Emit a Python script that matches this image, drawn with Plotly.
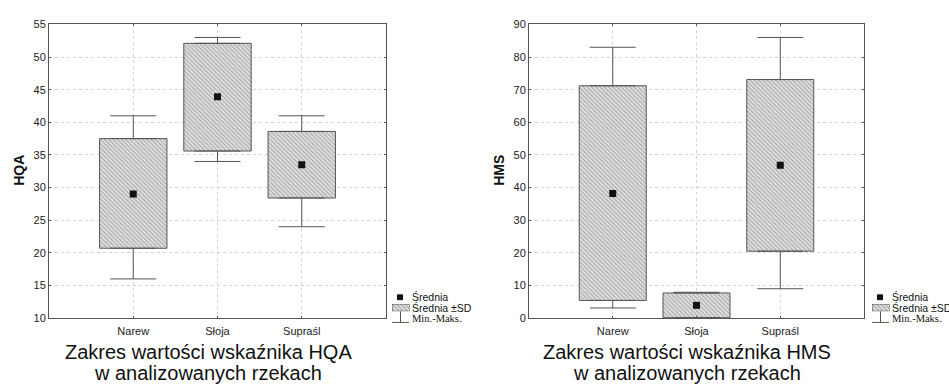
import plotly.graph_objects as go

W, H = 949, 389

# ---------------- data ----------------
rivers = ["Narew", "Słoja", "Supraśl"]
xpos = [1, 2, 3]

hqa_mean = [29.0, 43.9, 33.5]
hqa_sd_low = [20.7, 35.6, 28.4]
hqa_sd_high = [37.5, 52.1, 38.6]
hqa_min = [16.0, 34.0, 24.0]
hqa_max = [41.0, 53.0, 41.0]

hms_mean = [38.2, 3.9, 46.8]
hms_sd_low = [5.4, 0.1, 20.5]
hms_sd_high = [71.2, 7.7, 73.1]
hms_min = [3.1, 0.0, 9.0]
hms_max = [83.0, 7.9, 86.0]

hqa_ticks = [10, 15, 20, 25, 30, 35, 40, 45, 50, 55]
hms_ticks = [0, 10, 20, 30, 40, 50, 60, 70, 80, 90]

legend_labels = ["Średnia", "Średnia ±SD", "Min.-Maks."]
titles = [("Zakres wartości wskaźnika HQA", "w analizowanych rzekach"),
          ("Zakres wartości wskaźnika HMS", "w analizowanych rzekach")]
ytitles = ["HQA", "HMS"]

# ---------------- styling ----------------
SANS = "Liberation Sans, Arial, sans-serif"
SERIF = "Liberation Serif, Times New Roman, serif"
EDGE = "#555555"
PATTERN = dict(shape="\\", fgcolor="#6a6a6a", bgcolor="#e4e4e4", size=3, solidity=0.4)

fig = go.Figure()


def px_x(p):
    return p / W


def px_y(p):
    return 1 - p / H


def add_panel(xa, ya, mean, lo, hi, mn, mx):
    xs = "x" if xa == 1 else f"x{xa}"
    ys = "y" if ya == 1 else f"y{ya}"
    fig.add_trace(go.Bar(
        x=xpos, y=[h - l for h, l in zip(hi, lo)], base=lo, width=0.8,
        marker=dict(color="#e4e4e4", pattern=PATTERN, line=dict(color=EDGE, width=1)),
        xaxis=xs, yaxis=ys, showlegend=False, hoverinfo="skip"))
    # upper whiskers
    fig.add_trace(go.Scatter(
        x=xpos, y=hi, mode="markers", marker=dict(size=1, color="rgba(0,0,0,0)"),
        error_y=dict(type="data", symmetric=False,
                     array=[m - h for m, h in zip(mx, hi)], arrayminus=[0] * len(hi),
                     color="#555555", thickness=1, width=23),
        xaxis=xs, yaxis=ys, showlegend=False, hoverinfo="skip"))
    # lower whiskers
    fig.add_trace(go.Scatter(
        x=xpos, y=lo, mode="markers", marker=dict(size=1, color="rgba(0,0,0,0)"),
        error_y=dict(type="data", symmetric=False,
                     array=[0] * len(lo), arrayminus=[l - m for l, m in zip(lo, mn)],
                     color="#555555", thickness=1, width=23),
        xaxis=xs, yaxis=ys, showlegend=False, hoverinfo="skip"))
    # means
    fig.add_trace(go.Scatter(
        x=xpos, y=mean, mode="markers",
        marker=dict(symbol="square", size=7, color="#111111"),
        xaxis=xs, yaxis=ys, showlegend=False, hoverinfo="skip"))


add_panel(1, 1, hqa_mean, hqa_sd_low, hqa_sd_high, hqa_min, hqa_max)
add_panel(2, 2, hms_mean, hms_sd_low, hms_sd_high, hms_min, hms_max)

axis_common = dict(showline=True, mirror="ticks", linecolor=EDGE, linewidth=1,
                   ticks="inside", ticklen=2, tickcolor=EDGE,
                   showgrid=True, gridcolor="#d4d4d4", griddash="dot", gridwidth=1,
                   zeroline=False, tickfont=dict(family=SANS, size=11, color="#222"))

top, bottom = 19, 322
panels = [(49, 386), (529, 864)]

layout = dict(
    width=W, height=H, margin=dict(l=0, r=0, t=0, b=0),
    paper_bgcolor="white", plot_bgcolor="white", showlegend=False, barmode="overlay",
    xaxis=dict(domain=[px_x(panels[0][0]), px_x(panels[0][1])], range=[0, 4],
               tickvals=xpos, ticktext=rivers, anchor="y", ticklabelstandoff=3, **axis_common),
    yaxis=dict(domain=[px_y(bottom), px_y(top)], range=[10, 55], tickvals=hqa_ticks,
               anchor="x", **axis_common),
    xaxis2=dict(domain=[px_x(panels[1][0]), px_x(panels[1][1])], range=[0, 4],
                tickvals=xpos, ticktext=rivers, anchor="y2", ticklabelstandoff=3, **axis_common),
    yaxis2=dict(domain=[px_y(bottom), px_y(top)], range=[0, 90], tickvals=hms_ticks,
                anchor="x2", **axis_common),
)
fig.update_layout(**layout)

annotations = []
shapes = []
for i, (l, r) in enumerate(panels):
    off = 0 if i == 0 else 480
    # y-axis title
    annotations.append(dict(text=f"<b>{ytitles[i]}</b>", x=px_x(19 + off),
                            y=px_y(170), xref="paper", yref="paper", showarrow=False,
                            textangle=-90, font=dict(family=SANS, size=14, color="#111"),
                            xanchor="center", yanchor="middle"))
    # title lines
    cx = 208 if i == 0 else 687
    annotations.append(dict(text=titles[i][0], x=px_x(cx), y=px_y(357), xref="paper",
                            yref="paper", showarrow=False, xanchor="center", yanchor="middle",
                            font=dict(family=SANS, size=20, color="#111")))
    annotations.append(dict(text=titles[i][1], x=px_x(cx), y=px_y(379), xref="paper",
                            yref="paper", showarrow=False, xanchor="center", yanchor="middle",
                            font=dict(family=SANS, size=20, color="#111")))
    # legend
    tx = 410 + off
    for lbl, yy, fam in zip(legend_labels, [300.5, 311.5, 322], [SANS, SANS, SERIF]):
        annotations.append(dict(text=lbl, x=px_x(tx), y=px_y(yy), xref="paper", yref="paper",
                                showarrow=False, xanchor="left", yanchor="middle",
                                font=dict(family=fam, size=10.5, color="#111")))
    shapes.append(dict(type="rect", xref="paper", yref="paper",
                       x0=px_x(397 + off), x1=px_x(403 + off), y0=px_y(303.5), y1=px_y(297.5),
                       fillcolor="#111", line=dict(width=0)))
    shapes.append(dict(type="line", xref="paper", yref="paper",
                       x0=px_x(400.5 + off), x1=px_x(400.5 + off), y0=px_y(315), y1=px_y(326.5),
                       line=dict(color="#555", width=1)))
    shapes.append(dict(type="line", xref="paper", yref="paper",
                       x0=px_x(392 + off), x1=px_x(409 + off), y0=px_y(326.5), y1=px_y(326.5),
                       line=dict(color="#555", width=1)))

fig.update_layout(annotations=annotations, shapes=shapes)

# legend swatches (hatched box) on small hidden axes
for k, off in [(3, 0), (4, 480)]:
    fig.add_trace(go.Bar(x=[0], y=[1], width=1,
                         marker=dict(color="#e4e4e4", pattern=PATTERN,
                                     line=dict(color=EDGE, width=1)),
                         xaxis=f"x{k}", yaxis=f"y{k}", showlegend=False, hoverinfo="skip"))
    fig.update_layout(**{
        f"xaxis{k}": dict(domain=[px_x(392 + off), px_x(409.5 + off)], range=[-0.5, 0.5],
                          visible=False, anchor=f"y{k}", fixedrange=True),
        f"yaxis{k}": dict(domain=[px_y(315), px_y(307.5)], range=[0, 1],
                          visible=False, anchor=f"x{k}", fixedrange=True),
    })

fig.write_html("out.html", config={"displayModeBar": False},
               post_script="document.body.style.margin='0';document.body.style.overflow='hidden';")
